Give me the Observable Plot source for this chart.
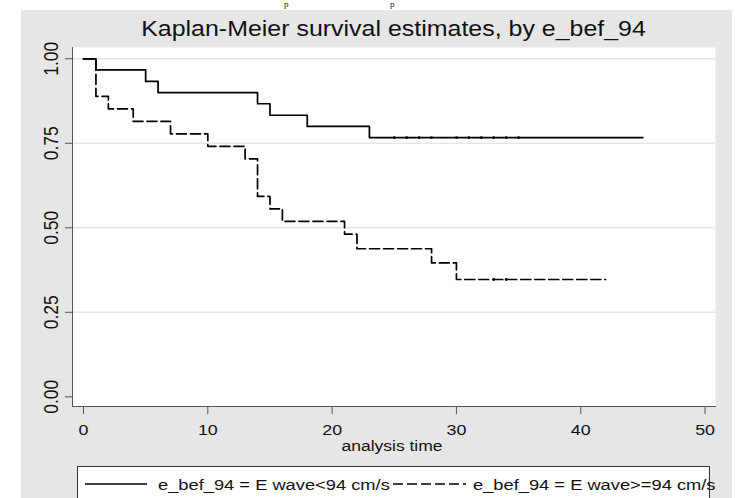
<!DOCTYPE html>
<html>
<head>
<meta charset="utf-8">
<script src="https://cdn.jsdelivr.net/npm/d3@7"></script>
<script src="https://cdn.jsdelivr.net/npm/@observablehq/plot@0.6"></script>
<style>
  html, body { margin: 0; padding: 0; background: #ffffff; }
  body { width: 735px; height: 498px; overflow: hidden; position: relative; font-family: "Liberation Sans", Arial, sans-serif; }
  #frag { position: absolute; left: 0; top: 0; width: 735px; height: 10px; }
  #frag span { position: absolute; font-family: "Liberation Serif", serif; font-size: 9px; line-height: 9px; color: #222; }
  #bg { position: absolute; left: 21px; top: 10px; width: 711px; height: 488px; background-color: #e6e6e6; }
  #title { position: absolute; left: 72px; width: 643px; top: 19px; text-align: center; font-size: 21.5px; line-height: 21.5px; color: #111; white-space: nowrap; }
  #title span { display: inline-block; transform: scaleX(1.16); transform-origin: center; }
  #chart { position: absolute; left: 0; top: 0; }
  #chart svg { background: none !important; }
  #legend { position: absolute; left: 77px; top: 466px; width: 633px; height: 44px; box-sizing: border-box; border: 1px solid #333; background: #fff; overflow: visible; }
  #legend svg { position: absolute; left: 0; top: 0; overflow: visible; }
  #legend .lt { position: absolute; font-size: 15.5px; line-height: 15.5px; color: #111; white-space: nowrap; transform: scaleX(1.18); transform-origin: left center; }
</style>
</head>
<body>
<div id="bg"></div>
<div id="frag"></div>
<div id="title"></div>
<div id="chart"></div>
<div id="legend"></div>
<script>
// ---- data ----
const chartTitle = "Kaplan-Meier survival estimates, by e_bef_94";
const xLabel = "analysis time";
const seriesLabels = ["e_bef_94 = E wave<94 cm/s", "e_bef_94 = E wave>=94 cm/s"];
const xTicks = [0, 10, 20, 30, 40, 50];
const yTicks = [0, 0.25, 0.5, 0.75, 1];

// group 1: E wave < 94 cm/s (solid)
const timesLow = [0, 1, 5, 6, 14, 15, 18, 23, 45];
const survLow  = [1, 0.967, 0.933, 0.900, 0.867, 0.833, 0.800, 0.767, 0.767];
const censorLow = [25, 26, 27, 28, 30, 31, 32, 33, 34, 35];

// group 2: E wave >= 94 cm/s (dashed)
const timesHigh = [0, 1, 2, 4, 7, 10, 13, 14, 15, 16, 21, 22, 28, 30, 42];
const survHigh  = [1, 0.889, 0.852, 0.815, 0.778, 0.741, 0.704, 0.593, 0.556, 0.519, 0.481, 0.438, 0.396, 0.347, 0.347];
const censorHigh = [33, 34];

// small text fragment at the very top of the reference
const fragLetters = ["p", "p"];

// ---- build ----
function stepAt(times, surv, t) {
  let v = surv[0];
  for (let i = 0; i < times.length; i++) if (times[i] <= t) v = surv[i];
  return v;
}
const low = timesLow.map((t, i) => ({t, s: survLow[i]}));
const high = timesHigh.map((t, i) => ({t, s: survHigh[i]}));
const lowC = censorLow.map(t => ({t, s: stepAt(timesLow, survLow, t)}));
const highC = censorHigh.map(t => ({t, s: stepAt(timesHigh, survHigh, t)}));

const dash = "10,4";

const chart = Plot.plot({
  width: 735,
  height: 460,
  marginLeft: 72,
  marginRight: 20,
  marginTop: 47,
  marginBottom: 54,
  style: {fontFamily: "'Liberation Sans', Arial, sans-serif", overflow: "visible", color: "#111"},
  x: {domain: [-0.885, 50.84]},
  y: {domain: [-0.0287, 1.0334]},
  marks: [
    Plot.frame({fill: "white", stroke: null}),
    Plot.ruleY(yTicks.filter(d => d > 0), {stroke: "#e6e6e6", strokeWidth: 1.6}),
    Plot.line(low, {x: "t", y: "s", curve: "step-after", stroke: "#000", strokeWidth: 1.7}),
    Plot.line(high, {x: "t", y: "s", curve: "step-after", stroke: "#000", strokeWidth: 1.7, strokeDasharray: dash}),
    Plot.dot(lowC, {x: "t", y: "s", r: 1.4, fill: "#000", stroke: null}),
    Plot.dot(highC, {x: "t", y: "s", r: 1.4, fill: "#000", stroke: null}),
    Plot.frame({anchor: "left", stroke: "#555"}),
    Plot.frame({anchor: "bottom", stroke: "#555"}),
    Plot.axisX({ticks: xTicks, tickSize: 8, tickPadding: 9, fontSize: 15.5, label: null, stroke: "#555", fill: "#111"}),
    Plot.axisY({ticks: yTicks, tickSize: 7, label: null, stroke: "#555", fill: "none"}),
    Plot.text(yTicks, {y: d => d, text: d => d3.format(".2f")(d), frameAnchor: "left", dx: -21, rotate: -90, fontSize: 17.5, textAnchor: "middle", lineAnchor: "middle", fill: "#111"}),
    Plot.text([xLabel], {text: d => d, frameAnchor: "bottom", dx: -2, dy: 34, lineAnchor: "top", fontSize: 15.2, fill: "#111"})
  ]
});
chart.style.setProperty("background", "none", "important");
document.getElementById("chart").appendChild(chart);

// horizontal stretch of the text glyphs (the reference looks widened)
chart.querySelectorAll("text").forEach(el => {
  const tr = el.getAttribute("transform") || "";
  if (tr.includes("rotate")) {
    el.setAttribute("transform", tr + " scale(1,1.2)");
  } else {
    const len = el.getComputedTextLength();
    if (len > 0) {
      el.setAttribute("textLength", (len * 1.15).toFixed(2));
      el.setAttribute("lengthAdjust", "spacingAndGlyphs");
    }
  }
});

// title
const tspan = document.createElement("span");
tspan.textContent = chartTitle;
document.getElementById("title").appendChild(tspan);

// fragment letters (kept fully visible inside the top strip)
const frag = document.getElementById("frag");
[284, 390].forEach((x, i) => {
  const s = document.createElement("span");
  s.textContent = fragLetters[i];
  s.style.left = x + "px";
  s.style.top = "0px";
  frag.appendChild(s);
});

// legend
const legend = document.getElementById("legend");
const ns = "http://www.w3.org/2000/svg";
const lsvg = document.createElementNS(ns, "svg");
lsvg.setAttribute("width", 633);
lsvg.setAttribute("height", 40);
const samples = [{x1: 7, x2: 69, dash: null}, {x1: 315, x2: 388, dash: dash}];
samples.forEach(s => {
  const l = document.createElementNS(ns, "line");
  l.setAttribute("x1", s.x1); l.setAttribute("x2", s.x2);
  l.setAttribute("y1", 17); l.setAttribute("y2", 17);
  l.setAttribute("stroke", "#000"); l.setAttribute("stroke-width", 1.7);
  if (s.dash) l.setAttribute("stroke-dasharray", s.dash);
  lsvg.appendChild(l);
});
legend.appendChild(lsvg);
[80, 395].forEach((x, i) => {
  const d = document.createElement("div");
  d.className = "lt";
  d.textContent = seriesLabels[i];
  d.style.left = x + "px";
  d.style.top = "10px";
  legend.appendChild(d);
});
</script>
</body>
</html>
